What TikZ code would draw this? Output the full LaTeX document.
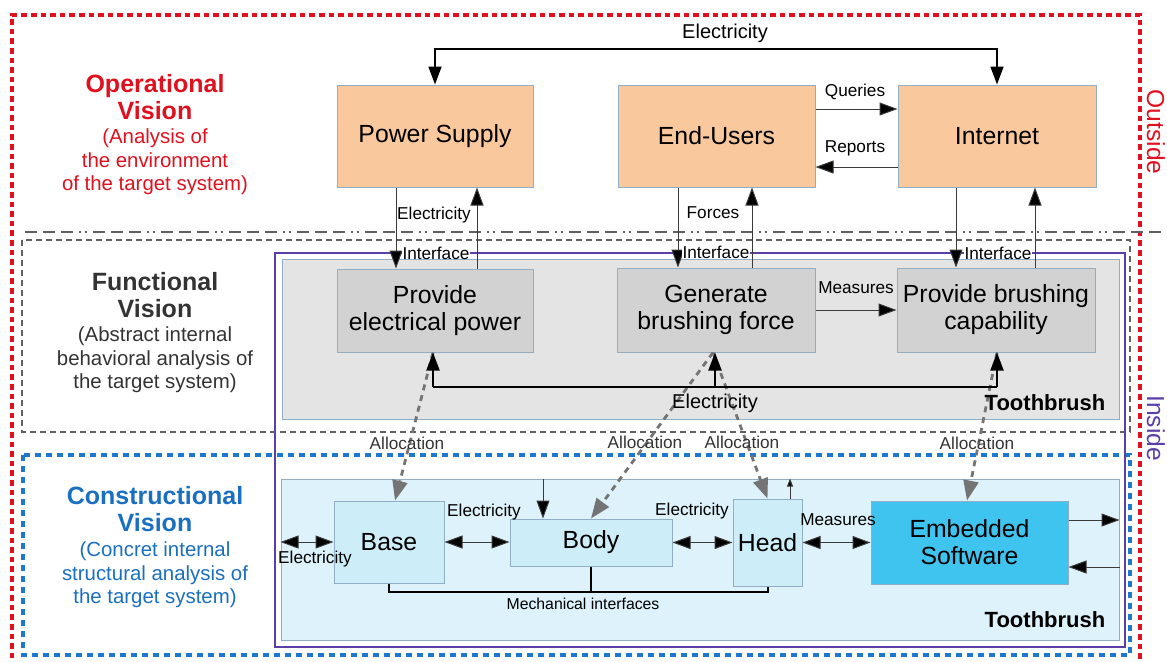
\documentclass[tikz,border=0pt]{standalone}
\usepackage{fontspec}
\setmainfont{Liberation Sans}
\usetikzlibrary{arrows.meta,calc}
\definecolor{opred}{HTML}{E0101E}
\definecolor{funcgray}{HTML}{333333}
\definecolor{conblue}{HTML}{1A6FC0}
\definecolor{framblue}{HTML}{1F78D0}
\definecolor{orangefill}{HTML}{F9C89C}
\definecolor{boxborder}{HTML}{90AEC6}
\definecolor{fgray}{HTML}{D2D2D2}
\definecolor{fcontfill}{HTML}{E4E4E4}
\definecolor{ccontfill}{HTML}{DDF2FA}
\definecolor{cfill}{HTML}{CDEEF9}
\definecolor{esfill}{HTML}{3EC4EF}
\definecolor{insidepurple}{HTML}{5A3FA8}
\definecolor{allocgray}{HTML}{747474}
\definecolor{dashgray}{HTML}{606060}
\definecolor{linegray}{HTML}{3A3A3A}
\newcommand\bxfont{\fontsize{12.4}{13.5}\selectfont}
\newcommand\hdfont{\fontsize{12.5}{13.5}\selectfont\bfseries}
\newcommand\subfont{\fontsize{10.2}{11.7}\selectfont}
\newcommand\smfont{\fontsize{8.6}{10}\selectfont}
\newcommand\mdfont{\fontsize{10}{12}\selectfont}
\tikzset{
  box/.style={draw=boxborder, line width=0.5pt, align=center, inner sep=0pt, font=\bxfont},
  obox/.style={box, fill=orangefill},
  fbox/.style={box, fill=fgray},
  cbox/.style={box, fill=cfill},
  lbl/.style={font=\smfont, inner sep=0.5pt},
  arr/.style={draw=linegray, line width=0.5pt, -{Triangle[length=9pt,width=6.5pt,fill=black]}},
  darr/.style={draw=linegray, line width=0.5pt, {Triangle[length=9pt,width=6.5pt,fill=black]}-{Triangle[length=9pt,width=6.5pt,fill=black]}},
  alloc/.style={draw=allocgray, line width=1.4pt, dash pattern=on 3pt off 2.5pt, -{Triangle[length=10pt,width=7.5pt]}}
}
\begin{document}
\begin{tikzpicture}[x=0.5pt,y=-0.5pt]
\useasboundingbox (0,0) rectangle (1167,661);
% frames
\draw[opred, line width=1.7pt, dash pattern=on 2.8pt off 2pt] (12,668) -- (12,15) -- (1140,15) -- (1140,668);
\draw[dashgray, line width=0.8pt, dash pattern=on 6pt off 3pt on 6pt off 3pt on 6pt off 3pt on 1pt off 2pt on 1pt off 3pt] (25,232) -- (1167,232);
\draw[dashgray, line width=1.4pt, dash pattern=on 2.8pt off 2.2pt] (22,240) rectangle (1130,432);
\draw[framblue, line width=1.6pt, dash pattern=on 3pt off 2.5pt] (23,455) rectangle (1130,655);
\draw[insidepurple, line width=0.8pt] (275,253) rectangle (1125,647);
% side titles
\node[rotate=-90, text=opred, font=\fontsize{12.3}{14}\selectfont] (outside) at (1156,132) {Outside};
\node[rotate=-90, text=insidepurple, font=\fontsize{12.3}{14}\selectfont] (inside) at (1156,428) {Inside};
% vision titles
\node[text=opred, font=\hdfont, align=center] (opt) at (155,97) {Operational\\Vision};
\node[text=opred, font=\subfont, align=center] (ops) at (155,162) {(Analysis of\\the environment\\of the target system)};
\node[text=funcgray, font=\hdfont, align=center] (fut) at (155,295) {Functional\\Vision};
\node[text=funcgray, font=\subfont, align=center] (fus) at (155,360) {(Abstract internal\\behavioral analysis of\\the target system)};
\node[text=conblue, font=\hdfont, align=center] (cot) at (155,509) {Constructional\\Vision};
\node[text=conblue, font=\subfont, align=center] (cos) at (155,575) {(Concret internal\\structural analysis of\\the target system)};
% containers
\node[draw=boxborder, fill=fcontfill, line width=0.5pt, minimum width=418.5pt, minimum height=80pt, inner sep=0pt] (fcont) at (700.5,339) {};
\node[draw=boxborder, fill=ccontfill, line width=0.5pt, minimum width=419pt, minimum height=80.5pt, inner sep=0pt] (ccont) at (700,559.5) {};
% boxes
\node[obox, minimum width=98pt, minimum height=51pt] (ps) at (435,136) {Power Supply};
\node[obox, minimum width=98.5pt, minimum height=51pt] (eu) at (716.5,136) {End-Users};
\node[obox, minimum width=99pt, minimum height=51pt] (in) at (997,136) {Internet};
\node[fbox, minimum width=98pt, minimum height=41.5pt] (pep) at (435,310.5) {Provide\\electrical power};
\node[fbox, minimum width=99pt, minimum height=42pt] (gbf) at (716,310) {Generate\\brushing force};
\node[fbox, minimum width=99pt, minimum height=42pt] (pbc) at (996,310) {Provide brushing\\capability};
\node[cbox, minimum width=55pt, minimum height=41pt] (base) at (389,542) {Base};
\node[cbox, minimum width=81pt, minimum height=23.5pt] (body) at (591,542.5) {Body};
\node[cbox, minimum width=34.5pt, minimum height=43.5pt] (head) at (767.5,542.5) {Head};
\node[box, fill=esfill, minimum width=98.5pt, minimum height=41.5pt] (es) at (969.5,542.5) {Embedded\\Software};
% operational connectors
\coordinate (etop) at (716,49);
\draw[darr, draw=black, line width=0.9pt] (ps.north) |- (etop) -| (in.north);
\node[font=\mdfont] (elt) at (725,33) {Electricity};
\coordinate (yq) at (0,109);
\coordinate (yr) at (0,167);
\draw[arr] (eu.east |- yq) -- (in.west |- yq);
\draw[arr] (in.west |- yr) -- (eu.east |- yr);
\node[lbl] (lq) at (855,92) {Queries};
\node[lbl] (lr) at (855,148) {Reports};
% operational to functional
\draw[arr] ([xshift=-19.5pt]ps.south) -- ([xshift=-19.5pt]ps.south |- pep.north);
\draw[arr] ([xshift=21pt]pep.north) -- ([xshift=21pt]pep.north |- ps.south);
\draw[arr] ([xshift=-19.25pt]eu.south) -- ([xshift=-19.25pt]eu.south |- gbf.north);
\draw[arr] ([xshift=17.75pt]gbf.north -| eu.south) -- ([xshift=17.75pt]eu.south);
\draw[arr] ([xshift=-20.5pt]in.south) -- ([xshift=-20.5pt]in.south |- pbc.north);
\draw[arr] ([xshift=19pt]in.south |- pbc.north) -- ([xshift=19pt]in.south);
\node[lbl] (le1) at (434,215) {Electricity};
\node[lbl] (lf) at (713,213) {Forces};
\node[lbl, fill=white, inner ysep=0pt] (li1) at (436,253) {Interface};
\node[lbl, fill=white, inner ysep=0pt] (li2) at (716,252) {Interface};
\node[lbl, fill=white, inner ysep=0pt] (li3) at (998,253) {Interface};
% functional
\draw[arr] (gbf.east) -- (pbc.west);
\node[lbl] (lm1) at (856,288) {Measures};
% allocations
\draw[alloc] ([xshift=-1pt]pep.south) -- ([xshift=3pt]base.north);
\draw[alloc] ([xshift=-1.5pt]gbf.south) -- (body.north);
\draw[alloc] ([xshift=-1.5pt]gbf.south) -- (head.north);
\draw[alloc] ([xshift=0.5pt]pbc.south) -- ([xshift=-1.25pt]es.north);
\node[lbl, text=funcgray] (la1) at (407,443) {Allocation};
\node[lbl, text=funcgray] (la2) at (645,442) {Allocation};
\node[lbl, text=funcgray] (la3) at (742,442) {Allocation};
\node[lbl, text=funcgray] (la4) at (977,443) {Allocation};
% functional electricity
\coordinate (fe1) at (433,387);
\coordinate (fe2) at (715,387);
\coordinate (fe3) at (997,387);
\draw[black, line width=1pt] (fe1) -- (fe3);
\draw[arr, draw=black, line width=1pt] (fe1) -- (fe1 |- pep.south);
\draw[arr, draw=black, line width=1pt] (fe2) -- (fe2 |- gbf.south);
\draw[arr, draw=black, line width=1pt] (fe3) -- (fe3 |- pbc.south);
\node[font=\mdfont] (lfe) at (715,403) {Electricity};
\node[font=\fontsize{11}{13}\selectfont\bfseries] (tb1) at (1045,403) {Toothbrush};
% constructional
\draw[darr] (ccont.west |- base) -- (base.west);
\draw[darr] (base.east) -- (base.east -| body.west);
\draw[darr] (body.east) -- (body.east -| head.west);
\draw[darr] (head.east) -- (head.east -| es.west);
\node[lbl] (lc1) at (315,559) {Electricity};
\node[lbl] (lc2) at (484,512) {Electricity};
\node[lbl] (lc3) at (692,511) {Electricity};
\node[lbl] (lm2) at (838,520) {Measures};
\coordinate (bt) at (543,479);
\draw[arr] (bt) -- (bt |- body.north);
\draw[draw=linegray, line width=0.5pt, -{Triangle[length=4pt,width=3pt,fill=black]}] ([xshift=11.25pt]head.north) -- ([xshift=11.25pt]head.north |- ccont.north);
\draw[arr] ([yshift=11.25pt]es.east) -- ([yshift=11.25pt]es.east -| ccont.east);
\draw[arr] ([yshift=-12.25pt]es.east -| ccont.east) -- ([yshift=-12.25pt]es.east);
\coordinate (mech) at (583,592);
\draw[black, line width=1pt] (base.south) |- (mech) -| (head.south);
\draw[black, line width=1pt] (body.south) -- (body.south |- mech);
\node[font=\fontsize{7.9}{9}\selectfont, inner sep=0.5pt] (lmech) at (583,604) {Mechanical interfaces};
\node[font=\fontsize{11}{13}\selectfont\bfseries] (tb2) at (1045,620) {Toothbrush};
\end{tikzpicture}
\end{document}
